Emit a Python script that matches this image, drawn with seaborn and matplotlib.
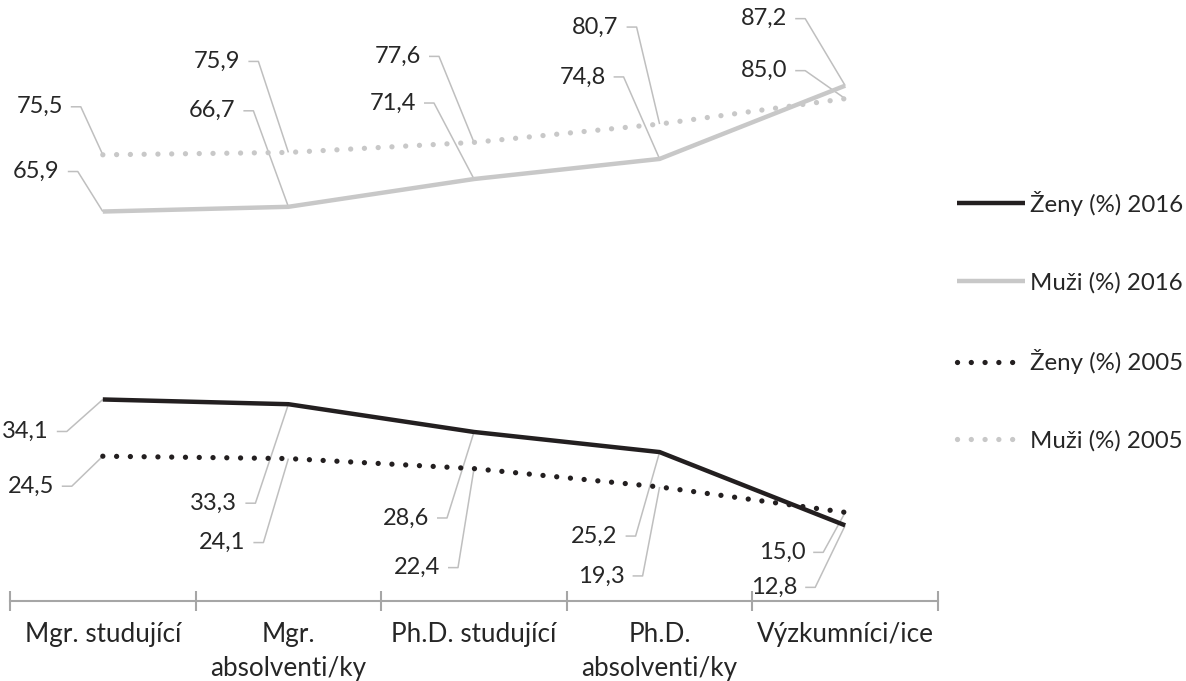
import numpy as np
import pandas as pd
import matplotlib
matplotlib.use("Agg")
import matplotlib.pyplot as plt
from matplotlib.lines import Line2D
import seaborn as sns

categories = ["Mgr. studující", "Mgr.\nabsolventi/ky", "Ph.D. studující",
              "Ph.D.\nabsolventi/ky", "Výzkumníci/ice"]
zeny_2016 = [34.1, 33.3, 28.6, 25.2, 12.8]
muzi_2016 = [65.9, 66.7, 71.4, 74.8, 87.2]
zeny_2005 = [24.5, 24.1, 22.4, 19.3, 15.0]
muzi_2005 = [75.5, 75.9, 77.6, 80.7, 85.0]
series_names = ["Ženy (%) 2016", "Muži (%) 2016", "Ženy (%) 2005", "Muži (%) 2005"]

# label leader offsets (pixels, y downward) from data point to leader corner
offsets = {
    "Muži (%) 2016": [(-25, -40), (-35, -96), (-40, -76), (-36, -82), (-40, -67)],
    "Muži (%) 2005": [(-22, -48), (-30, -91), (-35, -86), (-23, -97), (-40, -28)],
    "Ženy (%) 2016": [(-36, 32), (-33, 99), (-27, 86), (-24, 84), (-30, 62)],
    "Ženy (%) 2005": [(-31, 30), (-25, 84), (-16, 99), (-17, 89), (-22, 40)],
}

sns.set_theme(style="white")
plt.rcParams["font.family"] = ["Lato", "DejaVu Sans"]

BLACK = "#231f20"
GREY = "#c8c8c8"
TXT = "#262626"
FS = 17
FS_CAT = 18.8
FS_LEG = 17.3

fig = plt.figure(figsize=(11.86, 6.81), dpi=100)
W, H = 1186, 681
ax = fig.add_axes([10 / W, (H - 601) / H, 928 / W, 591 / H])

x = np.arange(len(categories))
values = {"Ženy (%) 2016": zeny_2016, "Muži (%) 2016": muzi_2016,
          "Ženy (%) 2005": zeny_2005, "Muži (%) 2005": muzi_2005}
styles = {
    "Muži (%) 2016": dict(color=GREY, linewidth=3.2, linestyle="-", solid_capstyle="butt"),
    "Muži (%) 2005": dict(color=GREY, linewidth=3.8, linestyle=(0, (0.01, 2.6)), dash_capstyle="round"),
    "Ženy (%) 2016": dict(color=BLACK, linewidth=3.2, linestyle="-", solid_capstyle="butt"),
    "Ženy (%) 2005": dict(color=BLACK, linewidth=3.8, linestyle=(0, (0.01, 2.6)), dash_capstyle="round"),
}
draw_order = ["Muži (%) 2016", "Muži (%) 2005", "Ženy (%) 2016", "Ženy (%) 2005"]
for name in draw_order:
    df = pd.DataFrame({"x": x, "y": values[name]})
    sns.lineplot(data=df, x="x", y="y", ax=ax, legend=False, **styles[name])

ax.set_xlim(-0.5, len(categories) - 0.5)
ax.set_ylim(0, 100)
ax.set_xlabel("")
ax.set_ylabel("")
for s in ["top", "right", "left"]:
    ax.spines[s].set_visible(False)
ax.spines["bottom"].set_color("#a6a6a6")
ax.spines["bottom"].set_linewidth(1.5)
ax.set_yticks([])
ax.set_xticks(np.arange(-0.5, len(categories)), labels=[""] * (len(categories) + 1))
ax.tick_params(axis="x", which="major", bottom=True, direction="inout", length=14,
               width=1.5, color="#a6a6a6")
ax.set_xticks(x, labels=categories, minor=True)
ax.tick_params(axis="x", which="minor", bottom=True, length=0, pad=15,
               labelsize=FS_CAT, labelcolor=TXT)
for lab in ax.get_xticklabels(minor=True):
    lab.set_linespacing(1.45)
    lab.set_verticalalignment("top")

# labels with leader lines
fig.canvas.draw()
inv = ax.transData.inverted()
for name in draw_order:
    for i, v in enumerate(values[name]):
        px, py = ax.transData.transform((i, v))
        dx, dy = offsets[name][i]
        cx, cy = px + dx, py - dy
        pts = np.array([[px, py], [cx, cy], [cx - 10, cy]])
        dpts = inv.transform(pts)
        ax.plot(dpts[:, 0], dpts[:, 1], color="#bfbfbf", linewidth=1.1,
                solid_capstyle="butt", clip_on=False, zorder=1)
        tx, ty = inv.transform((cx - 18, cy))
        ax.text(tx, ty, f"{v:.1f}".replace(".", ","), ha="right", va="center",
                fontsize=FS, color=TXT, clip_on=False)

handles = [Line2D([0], [0], **styles[n]) for n in series_names]
leg = fig.legend(handles, series_names, loc="upper left",
                 bbox_to_anchor=(935 / W, 1 - 169 / H), frameon=False,
                 fontsize=FS_LEG, handlelength=2.85, handletextpad=0.2,
                 labelspacing=2.33, labelcolor=TXT)

fig.savefig("out.png", dpi=100)
